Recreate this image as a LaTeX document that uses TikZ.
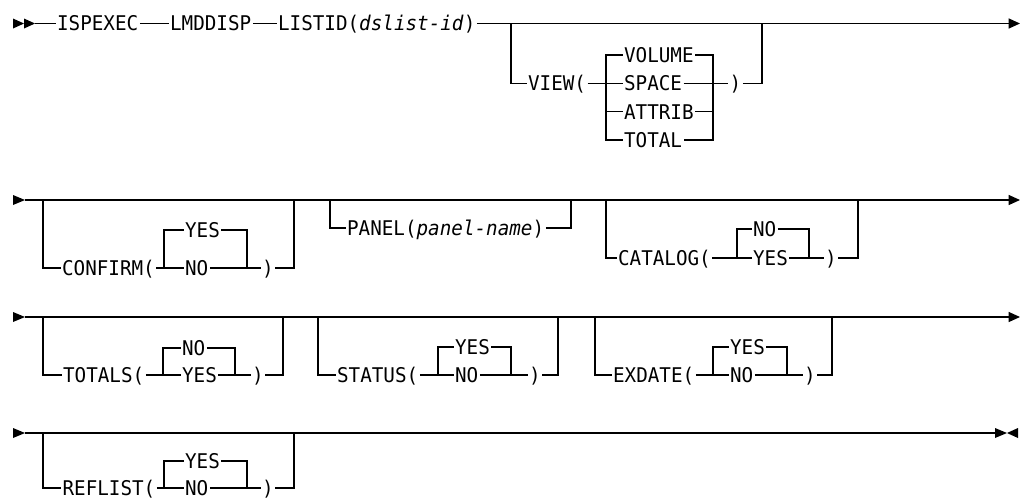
\documentclass[tikz,border=0pt]{standalone}
\usepackage{fontspec}
\setmonofont{DejaVu Sans Mono}[FakeStretch=0.95]
\usepackage{tikz}
\usetikzlibrary{arrows.meta}
\tikzset{
  railline/.style={line width=0.9pt},
  railend/.style={line width=0.9pt, -{Triangle[length=8.5pt, width=7.5pt]}},
  railtip/.style={fill=black},
  kwnode/.style={anchor=west, inner xsep=1pt, inner ysep=0pt, text height=11.1pt, text depth=0pt, font=\fontsize{15.2}{17}\selectfont\ttfamily}
}

\begin{document}
\begin{tikzpicture}[x=0.75pt, y=-0.75pt, every node/.style={kwnode}]
  \useasboundingbox (0,0) rectangle (1022,501);

  % first line
  \fill[railtip] (13,18.5) -- (24,23.5) -- (13,28.5) -- cycle;
  \fill[railtip] (24,18.5) -- (35,23.5) -- (24,28.5) -- cycle;
  \coordinate (r1) at (35,23.5);
  \coordinate (e1) at (1020,23.5);
  \node (ispexec) at (55.5,23.5) {ISPEXEC};
  \node (lmddisp) at (168.5,23.5) {LMDDISP};
  \node (listid) at (276.5,23.5) {LISTID(\textit{dslist-id})};
  \draw[railline] (r1) -- (ispexec.west);
  \draw[railline] (ispexec.east) -- (lmddisp.west);
  \draw[railline] (lmddisp.east) -- (listid.west);
  \draw[railend] (listid.east) -- (e1);

  \coordinate (viewl) at (511,23.5);
  \coordinate (viewr) at (762,23.5);
  \coordinate (viewcl) at (606,83.3);
  \coordinate (viewcr) at (713,83.3);
  \node (view) at (526.5,83.3) {VIEW(};
  \node (volume) at (622.5,55) {VOLUME};
  \node (space) at (622.5,83.3) {SPACE};
  \node (attrib) at (622.5,111.7) {ATTRIB};
  \node (total) at (622.5,140) {TOTAL};
  \node (viewend) at (728,83.3) {)};
  \draw[railline] (viewl) |- (view.west) (view.east) -- (space.west) (space.east) -- (viewend.west) (viewend.east) -| (viewr);
  \draw[railline] (volume.west) -| (total.west -| viewcl) -- (total.west) (attrib.west -| viewcl) -- (attrib.west);
  \draw[railline] (volume.east) -| (total.east -| viewcr) -- (total.east) (attrib.east) -- (attrib.east -| viewcr);

  % second line
  \fill[railtip] (13,195) -- (25,200) -- (13,205) -- cycle;
  \coordinate (r2) at (25,200);
  \coordinate (e2) at (1020,200);
  \draw[railend] (r2) -- (e2);

  \coordinate (confl) at (43,200);
  \coordinate (confr) at (294,200);
  \coordinate (confcl) at (164,268);
  \coordinate (confcr) at (247,268);
  \node (confirm) at (60.5,268) {CONFIRM(};
  \node (confyes) at (183.5,230) {YES};
  \node (confno) at (183.5,268) {NO};
  \node (confend) at (260.5,268) {)};
  \draw[railline] (confl) |- (confirm.west) (confirm.east) -- (confno.west) (confno.east) -- (confend.west) (confend.east) -| (confr);
  \draw[railline] (confcl) |- (confyes.west) (confyes.east) -| (confcr);

  \coordinate (panl) at (330,200);
  \coordinate (panr) at (571,200);
  \node (panel) at (345.5,228) {PANEL(\textit{panel-name})};
  \draw[railline] (panl) |- (panel.west) (panel.east) -| (panr);

  \coordinate (catl) at (606,200);
  \coordinate (catr) at (858,200);
  \coordinate (catcl) at (737,258);
  \coordinate (catcr) at (809,258);
  \node (catalog) at (616.5,258) {CATALOG(};
  \node (catno) at (751.5,229) {NO};
  \node (catyes) at (751.5,258) {YES};
  \node (catend) at (823.5,258) {)};
  \draw[railline] (catl) |- (catalog.west) (catalog.east) -- (catyes.west) (catyes.east) -- (catend.west) (catend.east) -| (catr);
  \draw[railline] (catcl) |- (catno.west) (catno.east) -| (catcr);

  % third line
  \fill[railtip] (13,312) -- (25,317) -- (13,322) -- cycle;
  \coordinate (r3) at (25,317);
  \coordinate (e3) at (1020,317);
  \draw[railend] (r3) -- (e3);

  \coordinate (totl) at (43,317);
  \coordinate (totr) at (283,317);
  \coordinate (totcl) at (163,375);
  \coordinate (totcr) at (235,375);
  \node (totals) at (61.5,375) {TOTALS(};
  \node (totno) at (180.5,348) {NO};
  \node (totyes) at (180.5,375) {YES};
  \node (totend) at (250.5,375) {)};
  \draw[railline] (totl) |- (totals.west) (totals.east) -- (totyes.west) (totyes.east) -- (totend.west) (totend.east) -| (totr);
  \draw[railline] (totcl) |- (totno.west) (totno.east) -| (totcr);

  \coordinate (statl) at (318,317);
  \coordinate (statr) at (558,317);
  \coordinate (statcl) at (438,375);
  \coordinate (statcr) at (511,375);
  \node (status) at (335.5,375) {STATUS(};
  \node (statyes) at (453.5,347) {YES};
  \node (statno) at (453.5,375) {NO};
  \node (statend) at (527.5,375) {)};
  \draw[railline] (statl) |- (status.west) (status.east) -- (statno.west) (statno.east) -- (statend.west) (statend.east) -| (statr);
  \draw[railline] (statcl) |- (statyes.west) (statyes.east) -| (statcr);

  \coordinate (exl) at (595,317);
  \coordinate (exr) at (832,317);
  \coordinate (excl) at (713,375);
  \coordinate (excr) at (787,375);
  \node (exdate) at (611.5,375) {EXDATE(};
  \node (exyes) at (728.5,347) {YES};
  \node (exno) at (728.5,375) {NO};
  \node (exend) at (802.5,375) {)};
  \draw[railline] (exl) |- (exdate.west) (exdate.east) -- (exno.west) (exno.east) -- (exend.west) (exend.east) -| (exr);
  \draw[railline] (excl) |- (exyes.west) (exyes.east) -| (excr);

  % last line
  \fill[railtip] (13,428) -- (25,433) -- (13,438) -- cycle;
  \coordinate (r4) at (25,433);
  \coordinate (e4) at (995,433);
  \draw[railline] (r4) -- (e4);
  \fill[railtip] (995,428) -- (1007,433) -- (995,438) -- cycle;
  \fill[railtip] (1018,428) -- (1007,433) -- (1018,438) -- cycle;
  \draw[line width=1.4pt] (300,432.7) -- (324,432.7);

  \coordinate (refl) at (43,433);
  \coordinate (refr) at (294,433);
  \coordinate (refcl) at (164,488);
  \coordinate (refcr) at (247,488);
  \node (reflist) at (61,488) {REFLIST(};
  \node (refyes) at (183.5,461) {YES};
  \node (refno) at (183.5,488) {NO};
  \node (refend) at (260.5,488) {)};
  \draw[railline] (refl) |- (reflist.west) (reflist.east) -- (refno.west) (refno.east) -- (refend.west) (refend.east) -| (refr);
  \draw[railline] (refcl) |- (refyes.west) (refyes.east) -| (refcr);
\end{tikzpicture}
\end{document}
